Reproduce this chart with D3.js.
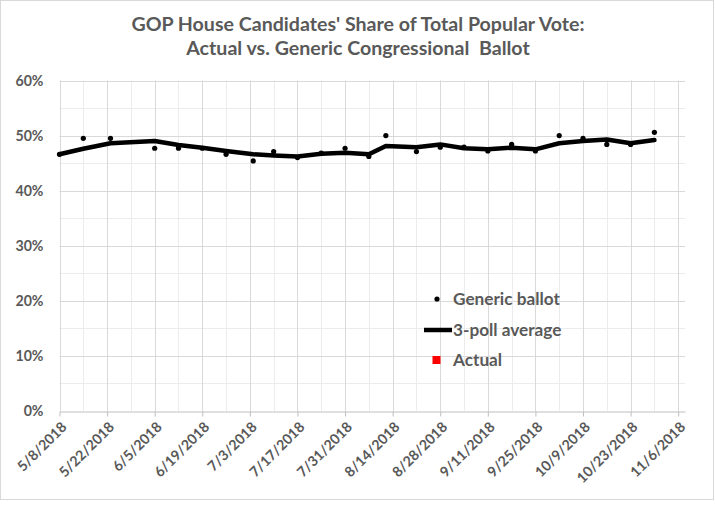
<!DOCTYPE html>
<html><head><meta charset="utf-8">
<script src="https://cdn.jsdelivr.net/npm/d3@7"></script>
<style>
body{margin:0;background:#fff}
svg{display:block}
text{font-family:Lato,"Open Sans",sans-serif;font-weight:bold;fill:#595959}
</style>
</head><body>
<svg id="chart" width="715" height="505"></svg>
<script>
// ---- data ----
const pollDates = ["2018-05-08","2018-05-15","2018-05-23","2018-06-05","2018-06-12","2018-06-19","2018-06-26",
  "2018-07-04","2018-07-10","2018-07-17","2018-07-24","2018-07-31","2018-08-07","2018-08-12","2018-08-21",
  "2018-08-28","2018-09-04","2018-09-11","2018-09-18","2018-09-25","2018-10-02","2018-10-09","2018-10-16",
  "2018-10-23","2018-10-30"];
const genericBallot = [46.6,49.5,49.5,47.7,47.7,47.7,46.6,45.4,47.1,46.0,46.8,47.7,46.2,50.0,47.1,
  47.9,47.9,47.2,48.4,47.2,50.0,49.5,48.4,48.4,50.6];
const threePollAverage = [46.6,47.6,48.6,49.0,48.3,47.8,47.2,46.6,46.4,46.2,46.7,46.9,46.6,48.1,47.9,
  48.4,47.7,47.5,47.8,47.5,48.6,49.0,49.3,48.6,49.2];
const actualDates = [];   // no actual result point is drawn in the reference
const actualValues = [];
const yTickValues = [0,10,20,30,40,50,60];
const xTickLabels = ["5/8/2018","5/22/2018","6/5/2018","6/19/2018","7/3/2018","7/17/2018","7/31/2018",
  "8/14/2018","8/28/2018","9/11/2018","9/25/2018","10/9/2018","10/23/2018","11/6/2018"];
const titleLines = ["GOP House Candidates' Share of Total Popular Vote:","Actual vs. Generic Congressional  Ballot"];
const legendLabels = ["Generic ballot","3-poll average","Actual"];
const xDomain = ["2018-05-08","2018-11-08"];

// ---- layout ----
const svg = d3.select("#chart");
const parse = d3.utcParse("%Y-%m-%d");
const parseLabel = d3.utcParse("%m/%d/%Y");
const L = 59.5, R = 685, T = 80.5, B = 411;

svg.append("rect").attr("x",0.5).attr("y",0.5).attr("width",713).attr("height",499)
  .attr("fill","#fff").attr("stroke","#d9d9d9");

const x = d3.scaleUtc().domain(xDomain.map(parse)).range([L,R]);
const y = d3.scaleLinear().domain([0,60]).range([B,T]);

// title
svg.append("g").selectAll("text").data(titleLines).join("text")
  .attr("x",358).attr("y",(d,i)=>31+i*24).attr("text-anchor","middle")
  .style("font-size","19.6px").style("white-space","pre").attr("xml:space","preserve")
  .attr("fill","#555").text(d=>d);

// minor grid
const g = svg.append("g");
const weekly = d3.utcDay.range(x.domain()[0], x.domain()[1], 7);
g.selectAll(".vminor").data(weekly).join("line")
  .attr("x1",d=>Math.round(x(d))+0.5).attr("x2",d=>Math.round(x(d))+0.5).attr("y1",T).attr("y2",B)
  .attr("stroke","#ececec");
g.selectAll(".hminor").data(d3.range(5,60,10)).join("line")
  .attr("x1",L).attr("x2",R).attr("y1",d=>Math.round(y(d))+0.5).attr("y2",d=>Math.round(y(d))+0.5)
  .attr("stroke","#ececec");
// major grid
const majorDates = xTickLabels.map(parseLabel);
g.selectAll(".vmajor").data(majorDates).join("line")
  .attr("x1",d=>Math.round(x(d))+0.5).attr("x2",d=>Math.round(x(d))+0.5).attr("y1",T).attr("y2",B)
  .attr("stroke","#d9d9d9");
g.selectAll(".hmajor").data(yTickValues.filter(v=>v>0)).join("line")
  .attr("x1",L).attr("x2",R).attr("y1",d=>Math.round(y(d))+0.5).attr("y2",d=>Math.round(y(d))+0.5)
  .attr("stroke","#d9d9d9");

// y axis labels
const yAxis = svg.append("g").attr("transform",`translate(${L},0)`)
  .call(d3.axisLeft(y).tickValues(yTickValues).tickSize(0).tickPadding(16).tickFormat(d=>d+"%"));
yAxis.select(".domain").remove();
yAxis.selectAll("text").style("font-size","14.2px").style("font-family","Lato,sans-serif").attr("fill","#595959");

// x axis
const xAxis = svg.append("g").attr("transform",`translate(0,${Math.round(B)+0.5})`)
  .call(d3.axisBottom(x).tickValues(majorDates).tickSize(5).tickSizeOuter(0)
    .tickFormat((d,i)=>xTickLabels[i]));
xAxis.select(".domain").attr("stroke","#bfbfbf");
xAxis.selectAll(".tick line").attr("stroke","#bfbfbf");
xAxis.selectAll("text").style("font-size","14.2px").style("font-family","Lato,sans-serif").attr("fill","#595959")
  .attr("text-anchor","end").attr("x",0).attr("y",0).attr("dy","0.35em")
  .attr("transform","translate(4,13) rotate(-45)");

// series
const avgData = pollDates.map((d,i)=>({date:parse(d),v:threePollAverage[i]}));
const dotData = pollDates.map((d,i)=>({date:parse(d),v:genericBallot[i]}));
svg.append("path").datum(avgData)
  .attr("fill","none").attr("stroke","#000").attr("stroke-width",4.5)
  .attr("stroke-linejoin","round").attr("stroke-linecap","round")
  .attr("d",d3.line().x(d=>x(d.date)).y(d=>y(d.v)));
svg.append("g").selectAll("circle").data(dotData).join("circle")
  .attr("cx",d=>x(d.date)).attr("cy",d=>y(d.v)).attr("r",2.6).attr("fill","#000");
svg.append("g").selectAll("rect").data(actualDates.map((d,i)=>({date:parse(d),v:actualValues[i]}))).join("rect")
  .attr("x",d=>x(d.date)-4).attr("y",d=>y(d.v)-4).attr("width",8).attr("height",8).attr("fill","#ff0000");

// legend
const lg = svg.append("g");
lg.append("circle").attr("cx",437).attr("cy",299).attr("r",2.6).attr("fill","#000");
lg.append("line").attr("x1",424).attr("x2",452).attr("y1",330).attr("y2",330)
  .attr("stroke","#000").attr("stroke-width",4.5);
lg.append("rect").attr("x",432.5).attr("y",356).attr("width",8).attr("height",8).attr("fill","#ff0000");
lg.selectAll("text").data(legendLabels).join("text")
  .attr("x",453).attr("y",(d,i)=>299+i*30.5).attr("dy","0.35em")
  .style("font-size","17.2px").text(d=>d);
</script>
</body></html>
